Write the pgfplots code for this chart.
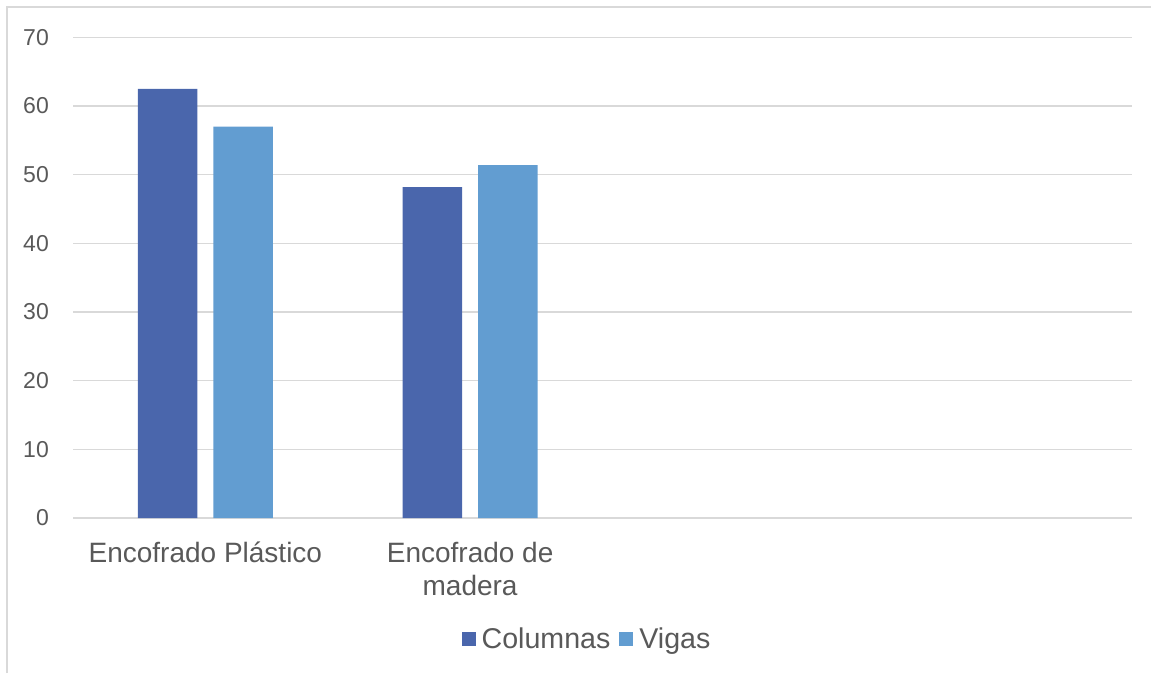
\documentclass[border=0pt]{standalone}
\usepackage{pgfplots}
\pgfplotsset{compat=1.18}
\usepackage{fontspec}
\setmainfont{Liberation Sans}
\definecolor{colA}{HTML}{4A66AC}
\definecolor{colB}{HTML}{629DD1}
\definecolor{txt}{HTML}{595959}
\definecolor{grd}{HTML}{D9D9D9}
\begin{document}
\begin{tikzpicture}[x=1pt,y=1pt]
\useasboundingbox (0,0) rectangle (1151,673);
\draw[grd, line width=1.5pt] (7,0) -- (7,666) -- (1151,666);
\begin{axis}[
  at={(73pt,155pt)}, anchor=south west,
  scale only axis, width=1059pt, height=480.6pt,
  xmin=-0.5, xmax=3.5, ymin=0, ymax=70,
  ytick={0,10,...,70},
  xtick={0,1},
  xticklabels={Encofrado Plástico,{Encofrado de\\madera}},
  axis line style={draw=none},
  major tick length=0pt,
  ymajorgrids, grid style={grd, line width=1.4pt},
  ybar=16pt, bar width=59.5pt,
  /pgf/number format/assume math mode=true,
  yticklabel style={font=\fontsize{23}{26}\selectfont, color=txt, anchor=east, inner sep=0pt, xshift=-24pt},
  xticklabel style={font=\fontsize{28}{32.6}\selectfont, color=txt, align=center, anchor=north, inner sep=0pt, yshift=-24pt},
  legend style={draw=none, font=\fontsize{28.6}{32}\selectfont, text=txt,
    at={(axis description cs:0.4854,-0.251)}, anchor=center, legend columns=2,
    /tikz/every even column/.append style={column sep=7pt}},
  legend image code/.code={\fill[#1] (0pt,-7pt) rectangle (14pt,7pt); \path (18pt,0pt);},
]
\addplot[fill=colA, draw=none] coordinates {(0,62.5) (1,48.2)};
\addplot[fill=colB, draw=none] coordinates {(0,57.0) (1,51.4)};
\legend{Columnas,Vigas}
\end{axis}
\end{tikzpicture}
\end{document}
